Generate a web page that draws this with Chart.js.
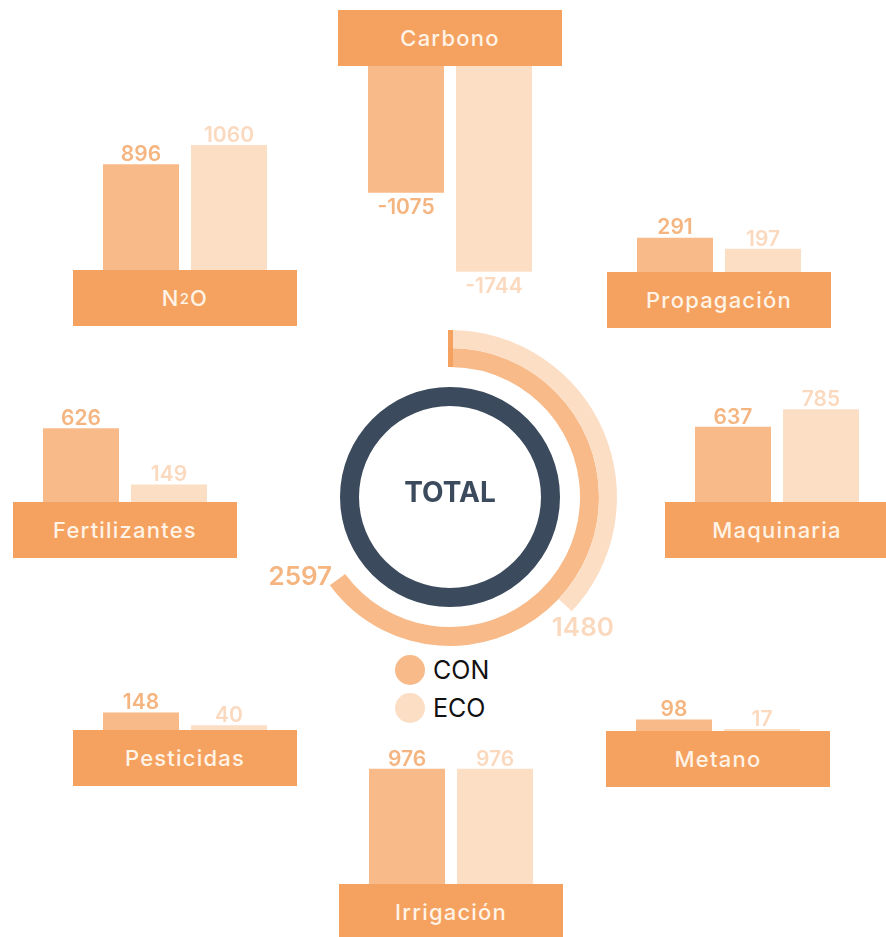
<!DOCTYPE html>
<html>
<head>
<meta charset="utf-8">
<script src="https://cdn.jsdelivr.net/npm/chart.js@4"></script>
<style>
  body { margin: 0; width: 886px; height: 937px; background: #fff; position: relative; overflow: hidden; font-family: Inter, "Open Sans", sans-serif; }
  .box { position: absolute; width: 224px; height: 56px; background: #F5A15F; color: #FFF3E6; font-size: 22px; font-weight: 500; letter-spacing: 1.2px; display: flex; align-items: center; justify-content: center; }
  .box sub { font-size: 15px; vertical-align: -4px; }
  canvas { position: absolute; }
  .leg { position: absolute; left: 395px; height: 30px; display: flex; align-items: center; font-size: 25px; color: #111; }
  .leg span { display: inline-block; width: 30px; height: 30px; border-radius: 50%; margin-right: 8px; }
</style>
</head>
<body>
<div class="leg" style="top:655px"><span style="background:#F8BA88"></span>CON</div>
<div class="leg" style="top:693px"><span style="background:#FCDEC5"></span>ECO</div>
<script>
// data
var categories = ['Carbono', 'N2O', 'Propagación', 'Fertilizantes', 'Maquinaria', 'Pesticidas', 'Metano', 'Irrigación'];
var conValues = [-1075, 896, 291, 626, 637, 148, 98, 976];
var ecoValues = [-1744, 1060, 197, 149, 785, 40, 17, 976];
var seriesNames = ['CON', 'ECO'];
var totalCon = 2597;
var totalEco = 1480;
var RING_MAX = 4000;

var CON_COLOR = '#F8BA88', ECO_COLOR = '#FCDEC5', BOX_COLOR = '#F5A15F', DARK = '#3B4A5C';
var CON_TEXT = '#F5B580', ECO_TEXT = '#FBD9BE';
var FONT = 'Inter, "Open Sans", sans-serif';

// box positions (left, top) for each panel
var boxPos = [[338, 10], [73, 270], [607, 272], [13, 502], [665, 502], [73, 730], [606, 731], [339, 884]];
var PX_PER_UNIT = 0.118;

var valueLabels = {
  id: 'valueLabels',
  afterDatasetsDraw: function(chart) {
    var ctx = chart.ctx;
    var meta = chart.getDatasetMeta(0);
    var vals = chart.data.datasets[0].data;
    ctx.save();
    ctx.font = '600 21px ' + FONT;
    ctx.textAlign = 'center';
    meta.data.forEach(function(bar, j) {
      ctx.fillStyle = j == 0 ? CON_TEXT : ECO_TEXT;
      if (vals[j] >= 0) {
        ctx.textBaseline = 'bottom';
        ctx.fillText(vals[j], bar.x, bar.y + 1);
      } else {
        ctx.textBaseline = 'top';
        ctx.fillText(vals[j], bar.x, bar.y + 4);
      }
    });
    ctx.restore();
  }
};

categories.forEach(function(cat, i) {
  var bx = boxPos[i][0], by = boxPos[i][1];
  var box = document.createElement('div');
  box.className = 'box';
  box.style.left = bx + 'px';
  box.style.top = by + 'px';
  if (cat == 'N2O') box.innerHTML = 'N<sub>2</sub>O';
  else box.textContent = cat;
  document.body.appendChild(box);

  var neg = conValues[i] < 0;
  var h = neg ? 250 : 160;
  var cv = document.createElement('canvas');
  cv.width = 176;
  cv.height = h;
  cv.style.left = (bx + 24) + 'px';
  cv.style.top = (neg ? by + 56 : by - h) + 'px';
  document.body.appendChild(cv);

  new Chart(cv, {
    type: 'bar',
    data: {
      labels: seriesNames,
      datasets: [{
        data: [conValues[i], ecoValues[i]],
        backgroundColor: [CON_COLOR, ECO_COLOR],
        borderWidth: 0,
        barPercentage: 76 / 88,
        categoryPercentage: 1
      }]
    },
    options: {
      responsive: false,
      animation: false,
      layout: { padding: 0 },
      scales: {
        x: { display: false },
        y: { display: false, min: neg ? -h / PX_PER_UNIT : 0, max: neg ? 0 : h / PX_PER_UNIT }
      },
      plugins: { legend: { display: false }, tooltip: { enabled: false } }
    },
    plugins: [valueLabels]
  });
});

// central rings
var ringLabels = {
  id: 'ringLabels',
  afterDatasetsDraw: function(chart) {
    var ctx = chart.ctx;
    var eco = chart.getDatasetMeta(0).data[0];
    var con = chart.getDatasetMeta(1).data[0];
    var cx = eco.x, cy = eco.y;
    ctx.save();
    // start tick
    ctx.fillStyle = BOX_COLOR;
    ctx.fillRect(cx - 2, cy - eco.outerRadius, 5, eco.outerRadius - con.innerRadius);
    ctx.font = '600 26px ' + FONT;
    ctx.textAlign = 'center';
    ctx.textBaseline = 'middle';
    var a, r;
    a = con.endAngle + 8 * Math.PI / 180; r = con.outerRadius + 21;
    ctx.fillStyle = CON_TEXT;
    ctx.fillText(totalCon, cx + r * Math.cos(a), cy + r * Math.sin(a));
    a = eco.endAngle + 1.5 * Math.PI / 180; r = eco.outerRadius + 20;
    ctx.fillStyle = ECO_TEXT;
    ctx.fillText(totalEco, cx + r * Math.cos(a), cy + r * Math.sin(a));
    ctx.fillStyle = DARK;
    ctx.font = '700 28px ' + FONT;
    ctx.fillText('TOTAL', cx, cy - 3);
    ctx.restore();
  }
};

var rc = document.createElement('canvas');
rc.width = 400;
rc.height = 400;
rc.style.left = '250px';
rc.style.top = '297px';
document.body.appendChild(rc);

new Chart(rc, {
  type: 'doughnut',
  data: {
    datasets: [
      { data: [totalEco, RING_MAX - totalEco], backgroundColor: [ECO_COLOR, 'rgba(0,0,0,0)'], weight: 18, borderWidth: 0 },
      { data: [totalCon, RING_MAX - totalCon], backgroundColor: [CON_COLOR, 'rgba(0,0,0,0)'], weight: 19, borderWidth: 0 },
      { data: [1], backgroundColor: ['rgba(0,0,0,0)'], weight: 20, borderWidth: 0 },
      { data: [1], backgroundColor: [DARK], weight: 19, borderWidth: 0 }
    ]
  },
  options: {
    responsive: false,
    animation: false,
    cutout: 91,
    layout: { padding: 33 },
    plugins: { legend: { display: false }, tooltip: { enabled: false } }
  },
  plugins: [ringLabels]
});
</script>
</body>
</html>
